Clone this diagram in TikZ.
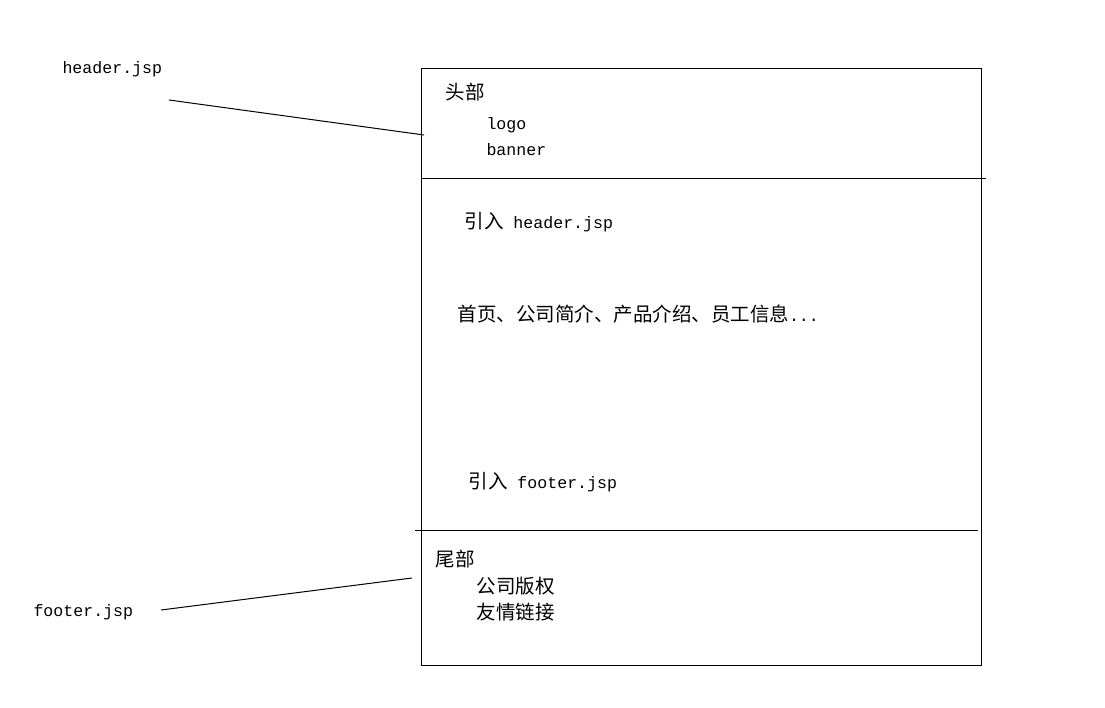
\documentclass[tikz,border=0pt]{standalone}
\usepackage{fontspec}
\setmainfont{Liberation Mono}
\newfontfamily\cjk{Noto Sans CJK SC}
\usetikzlibrary{positioning}

\newcommand{\zh}[1]{{\cjk\fontsize{19.5}{21}\selectfont #1}}

\begin{document}
\begin{tikzpicture}[x=1pt, y=-1pt, line width=1pt,
    font=\fontsize{16.6}{18}\selectfont,
    txt/.style={anchor=base west, inner sep=0pt}]
            \useasboundingbox (0,0) rectangle (1105,708);

            % Page frame
            \node (page) [draw, rectangle, anchor=north west, inner sep=0pt,
                minimum width=560pt, minimum height=597pt] at (421,68) {};
            \coordinate (headL) at (421,179);
            \coordinate (headR) at (986,179);
            \coordinate (footL) at (415,530);
            \coordinate (footR) at (978,530);
            \draw (headL) -- (headR);
            \draw (footL) -- (footR);

            % Header part
            \node (head) [txt] at (445,100) {\zh{头部}};
            \node (logo) [txt] at (486,130) {logo};
            \node (banner) [txt] at (486,156) {banner};

            % Body part
            \node (inchead) [txt] at (464,229) {\zh{引入} header.jsp};
            \node (menu) [txt] at (457,322) {\zh{首页、公司简介、产品介绍、员工信息}...};
            \node (incfoot) [txt] at (468,488) {\zh{引入} footer.jsp};

            % Footer part
            \node (foot) [txt] at (435,566) {\zh{尾部}};
            \node (copy) [txt] at (476,593) {\zh{公司版权}};
            \node (links) [txt] at (476,619) {\zh{友情链接}};

            % Labels
            \node (hdrfile) [txt] at (62,74) {header.jsp};
            \node (ftrfile) [txt] at (33,616) {footer.jsp};
            \coordinate (hdrA) at (169,100);
            \coordinate (hdrB) at (424,135);
            \coordinate (ftrA) at (161,610);
            \coordinate (ftrB) at (412,578);
            \draw (hdrA) -- (hdrB);
            \draw (ftrA) -- (ftrB);
        \end{tikzpicture}
\end{document}
